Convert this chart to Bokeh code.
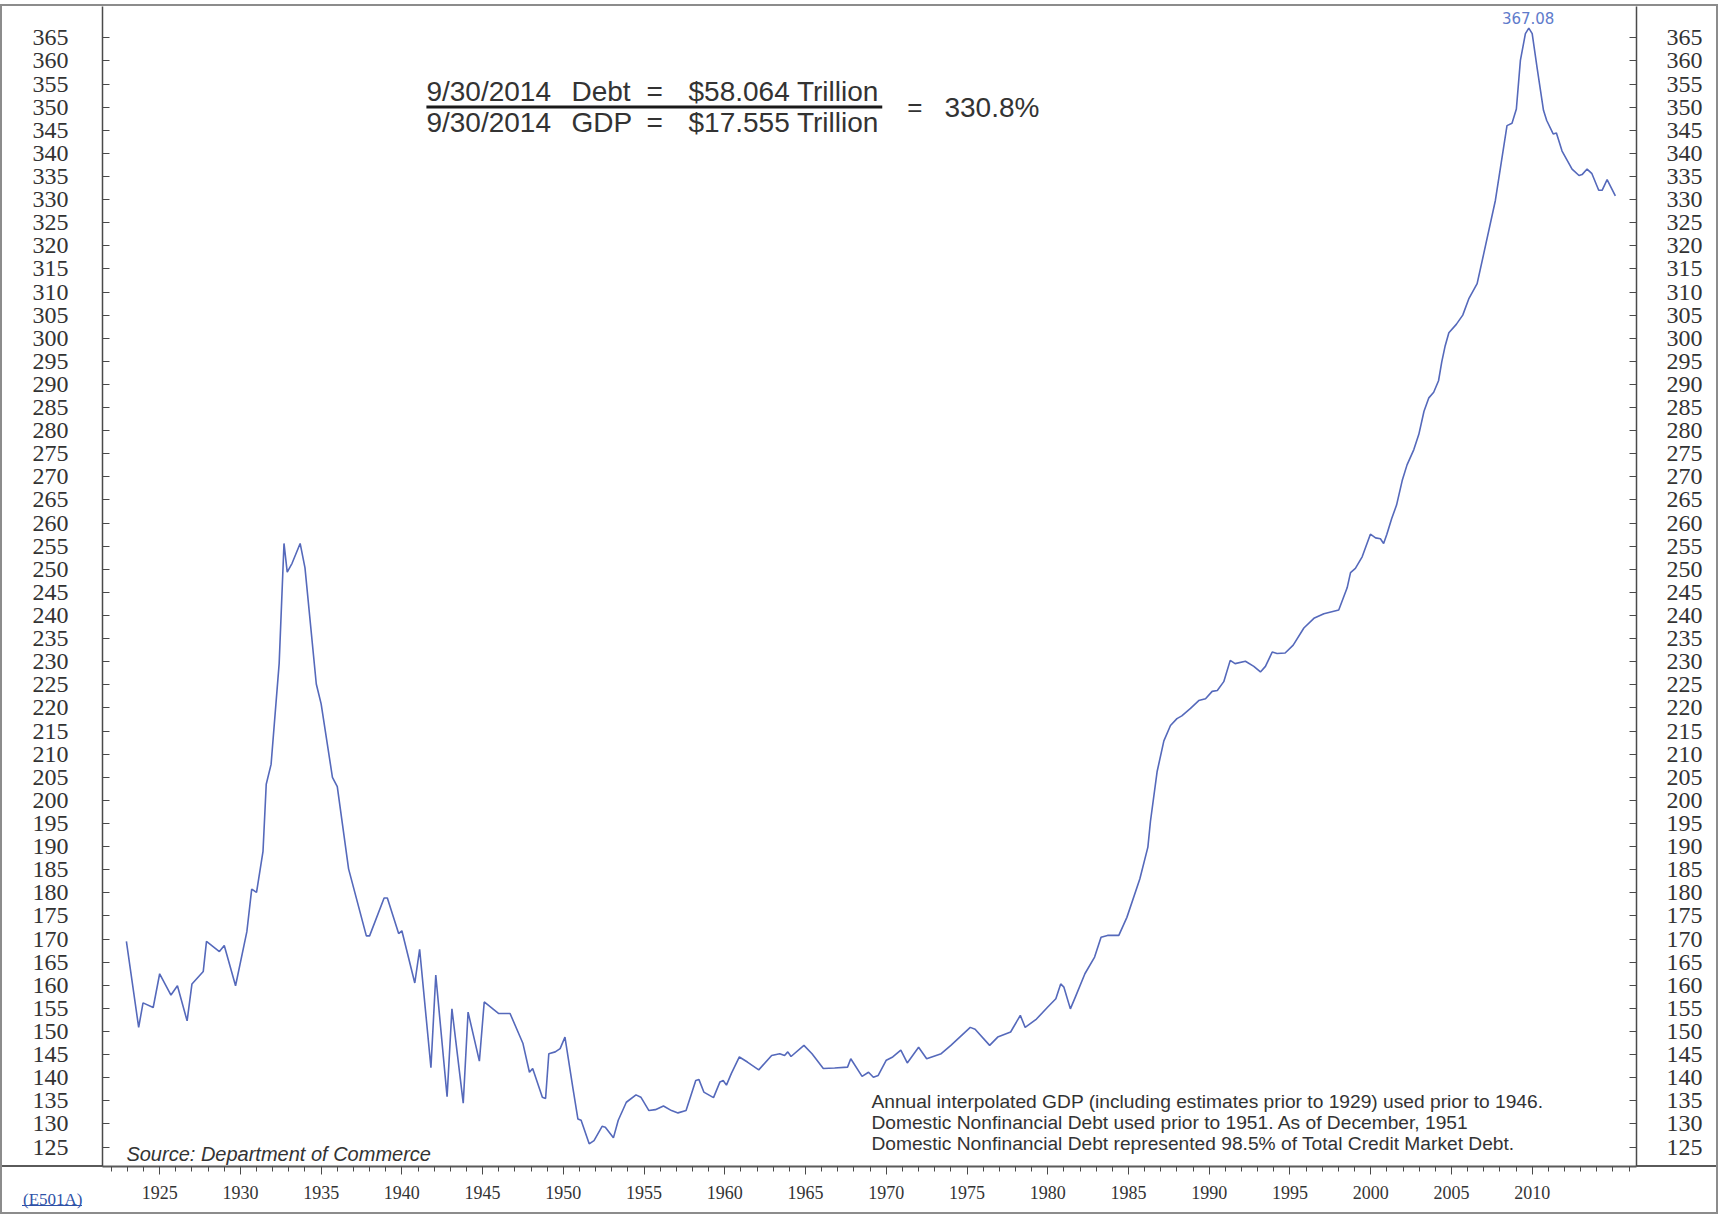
from bokeh.plotting import figure
from bokeh.layouts import column
from bokeh.models import Range1d, LinearAxis, FixedTicker, Label, ColumnDataSource, Div
from bokeh.embed import file_html
from bokeh.resources import INLINE

# ---- data ----
years = [
    1922.94, 1923.70, 1923.97, 1924.60, 1925.00, 1925.70, 1926.10, 1926.70, 1927.00, 1927.70,
    1927.90, 1928.70, 1929.00, 1929.70, 1930.40, 1930.70, 1931.00, 1931.40, 1931.60, 1931.90,
    1932.40, 1932.70, 1932.90, 1933.20, 1933.70, 1934.00, 1934.70, 1935.00, 1935.70, 1936.00,
    1936.70, 1937.80, 1938.00, 1938.90, 1939.10, 1939.80, 1940.00, 1940.80, 1941.10, 1941.80,
    1942.10, 1942.80, 1943.10, 1943.80, 1944.10, 1944.80, 1945.10, 1946.00, 1946.70, 1947.50,
    1947.90, 1948.10, 1948.70, 1948.90, 1949.10, 1949.50, 1949.80, 1950.10, 1950.60, 1950.90,
    1951.10, 1951.60, 1951.90, 1952.40, 1952.60, 1953.10, 1953.40, 1953.90, 1954.50, 1954.80,
    1955.30, 1955.70, 1956.20, 1956.70, 1957.10, 1957.60, 1958.20, 1958.40, 1958.70, 1959.30,
    1959.70, 1959.90, 1960.10, 1960.40, 1960.90, 1961.40, 1962.10, 1962.90, 1963.40, 1963.70,
    1963.90, 1964.10, 1964.90, 1965.40, 1966.10, 1966.80, 1967.60, 1967.80, 1968.50, 1968.90,
    1969.20, 1969.50, 1970.00, 1970.40, 1970.90, 1971.30, 1972.00, 1972.50, 1973.40, 1974.00,
    1975.20, 1975.50, 1976.40, 1976.90, 1977.70, 1978.30, 1978.60, 1979.30, 1980.00, 1980.50,
    1980.80, 1981.00, 1981.40, 1981.70, 1982.30, 1982.90, 1983.30, 1983.70, 1984.40, 1984.90,
    1985.70, 1986.20, 1986.36, 1986.77, 1987.19, 1987.60, 1988.00, 1988.30, 1988.84, 1989.35,
    1989.77, 1990.18, 1990.50, 1990.90, 1991.30, 1991.60, 1992.24, 1992.76, 1993.17, 1993.48,
    1993.90, 1994.20, 1994.70, 1995.20, 1995.86, 1996.48, 1997.10, 1998.02, 1998.54, 1998.75,
    1999.05, 1999.47, 1999.98, 2000.30, 2000.60, 2000.80, 2001.00, 2001.30, 2001.60, 2001.95,
    2002.25, 2002.67, 2002.98, 2003.30, 2003.60, 2003.90, 2004.20, 2004.40, 2004.60, 2004.84,
    2005.30, 2005.70, 2006.07, 2006.59, 2007.00, 2007.72, 2008.44, 2008.75, 2009.02, 2009.27,
    2009.58, 2009.79, 2010.00, 2010.30, 2010.70, 2010.90, 2011.30, 2011.50, 2011.85, 2012.47,
    2012.90, 2013.09, 2013.40, 2013.70, 2014.12, 2014.33, 2014.64, 2015.15,
]
ratio = [
    169.5, 150.9, 156.2, 155.2, 162.5, 157.9, 159.9, 152.3, 160.3, 163.0,
    169.5, 167.3, 168.6, 159.9, 171.6, 180.8, 180.1, 189.0, 203.5, 207.8,
    229.6, 255.6, 249.4, 251.3, 255.6, 250.3, 225.2, 220.9, 205.0, 203.0,
    185.2, 170.7, 170.7, 178.9, 178.9, 171.2, 171.8, 160.5, 167.8, 142.2,
    162.2, 135.9, 154.9, 134.5, 154.2, 143.6, 156.4, 153.9, 153.9, 147.4,
    141.2, 142.0, 135.8, 135.5, 145.2, 145.6, 146.3, 148.8, 137.6, 131.1,
    130.8, 125.7, 126.4, 129.5, 129.3, 127.0, 130.8, 134.7, 136.3, 135.8,
    132.9, 133.1, 133.9, 132.9, 132.4, 132.9, 139.4, 139.6, 136.9, 135.7,
    139.1, 139.4, 138.4, 140.9, 144.5, 143.4, 141.7, 144.8, 145.2, 144.8,
    145.6, 144.6, 147.0, 145.2, 142.0, 142.1, 142.3, 144.1, 140.3, 141.2,
    140.1, 140.5, 143.8, 144.5, 146.0, 143.2, 146.6, 144.1, 145.2, 147.0,
    150.9, 150.5, 147.0, 148.8, 149.9, 153.5, 150.9, 152.7, 155.3, 157.1,
    160.3, 159.6, 154.9, 157.4, 162.5, 166.1, 170.4, 170.8, 170.8, 174.7,
    183.0, 189.9, 195.5, 206.2, 212.9, 216.2, 217.7, 218.3, 219.9, 221.6,
    222.0, 223.6, 223.8, 225.7, 230.3, 229.6, 230.1, 229.0, 227.8, 229.0,
    232.1, 231.8, 231.9, 233.6, 237.3, 239.4, 240.4, 241.2, 246.0, 249.3,
    250.2, 252.7, 257.6, 256.8, 256.6, 255.6, 257.6, 261.0, 263.9, 269.2,
    272.6, 275.9, 279.2, 284.2, 287.1, 288.3, 290.8, 294.9, 298.2, 301.2,
    303.0, 305.0, 308.5, 311.8, 318.3, 329.8, 346.0, 346.5, 349.6, 360.1,
    365.9, 367.08, 365.9, 358.6, 349.3, 347.1, 344.2, 344.4, 340.5, 336.6,
    335.2, 335.4, 336.6, 335.6, 332.0, 332.0, 334.3, 330.8,
]
y_ticks = list(range(125, 366, 5))
x_major_ticks = list(range(1925, 2011, 5))
x_minor_ticks = list(range(1922, 2017))

formula_line1 = ["9/30/2014", "Debt", "=", "$58.064 Trillion"]
formula_line2 = ["9/30/2014", "GDP", "=", "$17.555 Trillion"]
formula_eq = "="
formula_result = "330.8%"
peak_label = "367.08"
source_text = "Source: Department of Commerce"
note_lines = [
    "Annual interpolated GDP (including estimates prior to 1929) used prior to 1946.",
    "Domestic Nonfinancial Debt used prior to 1951. As of December, 1951",
    "Domestic Nonfinancial Debt represented 98.5% of Total Credit Market Debt.",
]
chart_code = "(E501A)"

# ---- figure ----
W, H = 1720, 1214
X0, X1 = 1921.46, 2016.46
Y0, Y1 = 120.8, 371.77
p = figure(width=W, height=H, output_backend="svg", toolbar_location=None,
           x_range=Range1d(X0, X1), y_range=Range1d(Y0, Y1),
           min_border_left=102, min_border_right=84, min_border_top=6, min_border_bottom=48)

# outer frame and full-width rule drawn as CSS stripes behind a transparent border area
FR = "#8c8c8c"
stripes = [
    (0, 4, 1718, 2, FR),          # top frame line
    (0, 4, 2, 1210, FR),          # left frame line
    (1716, 4, 2, 1210, FR),       # right frame line
    (0, 1212, 1718, 2, FR),       # bottom frame line
    (0, 1165, 1718, 2, "#5a5a5a"),  # rule under the plot
    (22, 1205, 60, 1, "#2f52a8"),   # underline of the chart code
]
bg = ", ".join(f"linear-gradient({c},{c}) {x}px {y}px / {w}px {h}px no-repeat"
               for (x, y, w, h, c) in stripes)
p.styles = {"background": bg + ", white"}
p.border_fill_color = None
p.background_fill_color = "white"
p.outline_line_color = None
p.xgrid.visible = False
p.ygrid.visible = False

AX = "#4a4a4a"
LBL = "#333333"

xa = p.xaxis[0]
xa.ticker = FixedTicker(ticks=x_major_ticks, minor_ticks=x_minor_ticks)
xa.axis_line_color = "#5a5a5a"
xa.axis_line_width = 2
xa.major_tick_in = 0
xa.major_tick_out = 8
xa.minor_tick_in = 0
xa.minor_tick_out = 5
xa.major_tick_line_color = AX
xa.minor_tick_line_color = AX
xa.major_label_standoff = 11
xa.major_label_text_font = "Liberation Serif"
xa.major_label_text_font_size = "18px"
xa.major_label_text_color = LBL

right_axis = LinearAxis()
p.add_layout(right_axis, "right")
for ax, standoff in ((p.yaxis[0], 34), (right_axis, 30)):
    ax.ticker = FixedTicker(ticks=y_ticks, minor_ticks=[])
    ax.axis_line_color = AX
    ax.axis_line_width = 1.5
    ax.major_tick_in = 7
    ax.major_tick_out = 0
    ax.minor_tick_in = 0
    ax.minor_tick_out = 0
    ax.major_tick_line_color = AX
    ax.major_label_standoff = standoff
    ax.major_label_text_font = "Liberation Serif"
    ax.major_label_text_font_size = "24px"
    ax.major_label_text_color = LBL

src = ColumnDataSource(data=dict(year=years, ratio=ratio))
p.line(x="year", y="ratio", source=src, line_color="#5569bb", line_width=1.6)

# ---- formula ----
FONT = "Liberation Sans"
TXT = "#333333"
fx = [1941.52, 1950.50, 1955.15, 1957.75]
for t, x in zip(formula_line1, fx):
    p.add_layout(Label(x=x, y=353.4, text=t, text_font=FONT, text_font_size="28px",
                       text_color=TXT, text_baseline="middle", text_align="left"))
for t, x in zip(formula_line2, fx):
    p.add_layout(Label(x=x, y=346.7, text=t, text_font=FONT, text_font_size="28px",
                       text_color=TXT, text_baseline="middle", text_align="left"))
p.segment(x0=[1941.52], y0=[350.05], x1=[1969.75], y1=[350.05], line_color="#1a1a1a", line_width=3)
p.add_layout(Label(x=1971.3, y=350.0, text=formula_eq, text_font=FONT, text_font_size="26px",
                   text_color=TXT, text_baseline="middle", text_align="left"))
p.add_layout(Label(x=1973.6, y=350.0, text=formula_result, text_font=FONT, text_font_size="28px",
                   text_color=TXT, text_baseline="middle", text_align="left"))

# peak label
p.add_layout(Label(x=2009.75, y=369.2, text=peak_label, text_font="DejaVu Sans",
                   text_font_size="15px", text_color="#5f7bcb", text_baseline="middle",
                   text_align="center"))

# source
p.add_layout(Label(x=1922.94, y=123.6, text=source_text, text_font=FONT, text_font_style="italic",
                   text_font_size="20px", text_color=TXT, text_baseline="middle",
                   text_align="left"))

# notes
for t, yv in zip(note_lines, [134.86, 130.31, 125.76]):
    p.add_layout(Label(x=1969.08, y=yv, text=t, text_font=FONT, text_font_size="19.2px",
                       text_color=TXT, text_baseline="middle", text_align="left"))

# chart code at the bottom-left corner, outside the plot frame
code_div = Div(text=chart_code, width=70, height=20,
               styles={"position": "absolute", "left": "18px", "top": "1186px",
                       "font-family": "Liberation Serif", "font-size": "17px",
                       "line-height": "18px", "color": "#2f52a8", "z-index": "5"})

layout = column(p, code_div)
open("out.html", "w").write(file_html(layout, INLINE))
